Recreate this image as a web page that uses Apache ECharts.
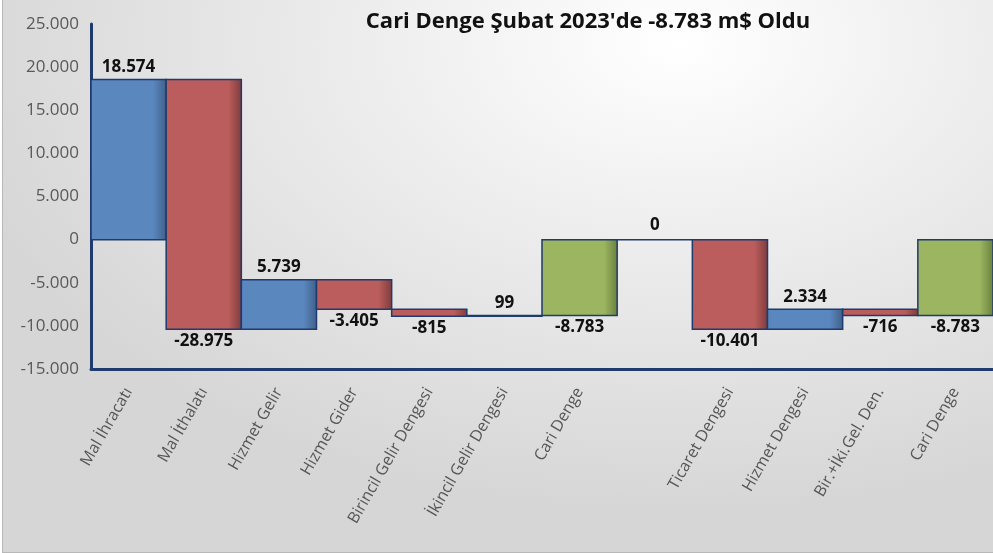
<!DOCTYPE html>
<html>
<head>
<meta charset="utf-8">
<script src="https://cdn.jsdelivr.net/npm/echarts@6/dist/echarts.min.js"></script>
<style>
  html, body { margin: 0; padding: 0; }
  #chart {
    width: 993px; height: 553px;
    box-sizing: border-box;
    border-left: 1px solid #b8b8b8;
    border-bottom: 1px solid #b8b8b8;
    margin-left: 2px;
    background: radial-gradient(ellipse 75% 85% at 68% 8%, #ffffff 0%, #f0f0f0 35%, #d6d6d6 100%);
  }
</style>
</head>
<body>
<div id="chart"></div>
<script>
// kategoriler ve değişimler (m$)
const categories = ['Mal İhracatı', 'Mal İthalatı', 'Hizmet Gelir', 'Hizmet Gider', 'Birincil Gelir Dengesi',
  'İkincil Gelir Dengesi', 'Cari Denge', '', 'Ticaret Dengesi', 'Hizmet Dengesi', 'Bir.+İki.Gel. Den.', 'Cari Denge'];
const values = [18574, -28975, 5739, -3405, -815, 99, -8783, 0, -10401, 2334, -716, -8783];
// 'step' önceki seviyeden devam eder, 'total' sıfırdan başlar
const kinds = ['step', 'step', 'step', 'step', 'step', 'step', 'total', 'total', 'step', 'step', 'step', 'total'];
const yTicks = { min: -15000, max: 25000, interval: 5000 };

// türkçe binlik ayırıcı
function fmt(v) {
    const s = String(Math.abs(v)).replace(/\B(?=(\d{3})+(?!\d))/g, '.');
    return (v < 0 ? '-' : '') + s;
}

// şelale aralıklarını hesapla
let level = 0;
const rows = values.map(function (v, i) {
    let start, end;
    if (kinds[i] === 'total') {
        start = 0; end = v;
    } else {
        start = level; end = level + v;
    }
    level = end;
    return [i, start, end, v, kinds[i] === 'total' ? 1 : 0];
});

const palette = {
    up: ['#5b87bf', '#3e5f88'],
    down: ['#bb5d5c', '#7d3b3b'],
    total: ['#9bb560', '#6a7f3e']
};

function renderItem(params, api) {
    const idx = api.value(0);
    const a = api.coord([idx, api.value(1)]);
    const b = api.coord([idx, api.value(2)]);
    const w = api.size([1, 0])[0];
    const v = api.value(3);
    const isTotal = api.value(4) === 1;
    const c = isTotal ? palette.total : (v >= 0 ? palette.up : palette.down);
    const top = Math.min(a[1], b[1]);
    const h = Math.abs(a[1] - b[1]);
    return {
        type: 'rect',
        shape: { x: a[0] - w / 2, y: top, width: w, height: h },
        style: {
            fill: (isTotal && v === 0) ? 'none' : new echarts.graphic.LinearGradient(0, 0, 1, 0, [
                { offset: 0, color: c[0] },
                { offset: 0.82, color: c[0] },
                { offset: 1, color: c[1] }
            ]),
            stroke: '#1f3a6e',
            lineWidth: 1.5
        },
        textContent: {
            style: {
                text: fmt(v),
                fill: '#111',
                font: 'bold 17px "Open Sans"'
            }
        },
        textConfig: { position: v >= 0 ? 'top' : 'bottom', distance: 3 }
    };
}

const options = {
    animation: false,
    title: {
        text: "Cari Denge Şubat 2023'de -8.783 m$ Oldu",
        left: 580,
        textAlign: 'center',
        top: 6,
        textStyle: { fontFamily: 'Open Sans', fontWeight: 'bold', fontSize: 22, color: '#111' }
    },
    grid: { left: 88, right: 2, top: 24, bottom: 183, outerBoundsMode: 'none' },
    xAxis: {
        type: 'category',
        data: categories,
        axisLine: { onZero: false, lineStyle: { color: '#1f3a6e', width: 3 } },
        axisTick: { show: false },
        axisLabel: {
            interval: 0,
            rotate: 60,
            margin: 20,
            color: '#555',
            fontFamily: 'Open Sans',
            fontSize: 16
        }
    },
    yAxis: {
        type: 'value',
        min: yTicks.min,
        max: yTicks.max,
        interval: yTicks.interval,
        axisLine: { show: true, lineStyle: { color: '#1f3a6e', width: 3 } },
        axisTick: { show: false },
        splitLine: { show: false },
        axisLabel: {
            color: '#595959',
            fontFamily: 'Open Sans',
            fontSize: 17,
            margin: 12,
            formatter: fmt
        }
    },
    series: [{
        type: 'custom',
        renderItem: renderItem,
        encode: { x: 0, y: [1, 2] },
        data: rows
    }]
};

const E = echarts.init(document.getElementById('chart'));
window.onresize = function () {
    E.resize();
};
E.setOption(options);
</script>
</body>
</html>
